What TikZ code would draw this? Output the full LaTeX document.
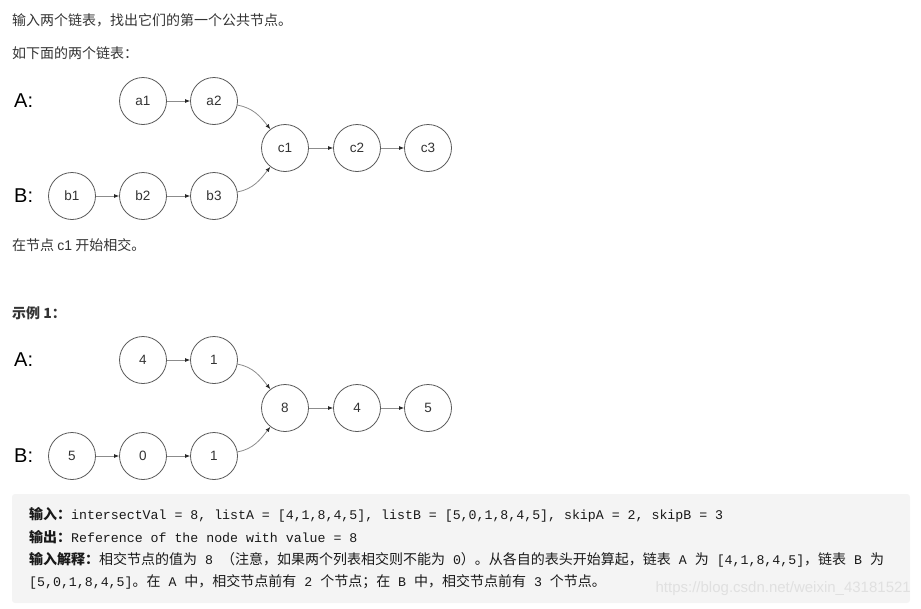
\documentclass[tikz,border=0pt]{standalone}
\usepackage{fontspec}
\setmainfont{Liberation Sans}
\setmonofont{Liberation Mono}
\newfontfamily\cjk{Noto Sans CJK SC}
\usetikzlibrary{arrows.meta}

\definecolor{codebg}{HTML}{F4F4F4}
\definecolor{ink}{HTML}{333333}
\tikzset{
  elem/.style={circle, draw=black!65, line width=0.8pt, minimum size=47pt, inner sep=0pt,
    text=ink, font=\fontsize{13.5}{16}\selectfont},
  link/.style={draw=black!45, line width=0.8pt, -{Latex[length=5pt,width=4pt,color=black!85]}},
  para/.style={anchor=west, inner sep=0pt, text=ink, font=\cjk\fontsize{14}{17}\selectfont},
  codeline/.style={anchor=west, inner sep=0pt, text=black!90, font=\fontsize{13.25}{17}\selectfont},
  listname/.style={anchor=west, inner sep=0pt, text=black, font=\fontsize{20}{24}\selectfont}
}

\begin{document}
\begin{tikzpicture}[x=1pt,y=-1pt]
\useasboundingbox (0,0) rectangle (921,608);

% texts above the lists
\node[para] (t1) at (12,20) {输入两个链表，找出它们的第一个公共节点。};
\node[para] (t2) at (12,53) {如下面的两个链表：};

% first pair of lists
\node[listname] (la) at (14,101) {A:}; \node[listname] (lb) at (14,196) {B:};
\node[elem] (a1) at (143,101) {a1}; \node[elem] (a2) at (214,101) {a2};
\node[elem] (b1) at (72,196) {b1}; \node[elem] (b2) at (143,196) {b2}; \node[elem] (b3) at (214,196) {b3};
\node[elem] (c1) at (285,148) {c1}; \node[elem] (c2) at (357,148) {c2}; \node[elem] (c3) at (428,148) {c3};
\draw[link] (a1)--(a2); \draw[link] (b1)--(b2); \draw[link] (b2)--(b3);
\draw[link] (c1)--(c2); \draw[link] (c2)--(c3);
\draw[link] (a2) to[out=-10,in=128] (c1);
\draw[link] (b3) to[out=10,in=-128] (c1);

\node[para] (t3) at (12,245) {在节点 {\fontspec{Liberation Sans}c1} 开始相交。};
\node[para] (t4) at (12,313) {\bfseries 示例 1：};

% second pair of lists
\node[listname] (ea) at (14,360) {A:}; \node[listname] (eb) at (14,456) {B:};
\node[elem] (ea1) at (143,360) {4}; \node[elem] (ea2) at (214,360) {1};
\node[elem] (eb1) at (72,456) {5}; \node[elem] (eb2) at (143,456) {0}; \node[elem] (eb3) at (214,456) {1};
\node[elem] (ec1) at (285,408) {8}; \node[elem] (ec2) at (357,408) {4}; \node[elem] (ec3) at (428,408) {5};
\draw[link] (ea1)--(ea2); \draw[link] (eb1)--(eb2); \draw[link] (eb2)--(eb3);
\draw[link] (ec1)--(ec2); \draw[link] (ec2)--(ec3);
\draw[link] (ea2) to[out=-10,in=128] (ec1);
\draw[link] (eb3) to[out=10,in=-128] (ec1);

% code block
\fill[codebg, rounded corners=3pt] (12,494) rectangle (910,603);
\node[anchor=east, inner sep=0pt, text=black!12, font=\fontsize{15}{18}\selectfont] (wm) at (911,589)
  {https://blog.csdn.net/weixin\_43181521};
\node[codeline] (l1) at (29,515) {{\cjk\bfseries\fontsize{14}{17}\selectfont 输入：}\texttt{intersectVal = 8, listA = [4,1,8,4,5], listB = [5,0,1,8,4,5], skipA = 2, skipB = 3}};
\node[codeline] (l2) at (29,537) {{\cjk\bfseries\fontsize{14}{17}\selectfont 输出：}\texttt{Reference of the node with value = 8}};
\node[codeline] (l3) at (29,560) {{\cjk\bfseries\fontsize{14}{17}\selectfont 输入解释：}{\cjk\fontsize{14}{17}\selectfont 相交节点的值为}\texttt{ 8 }{\cjk\fontsize{14}{17}\selectfont （注意，如果两个列表相交则不能为}\texttt{ 0}{\cjk\fontsize{14}{17}\selectfont ）。从各自的表头开始算起，链表}\texttt{ A }{\cjk\fontsize{14}{17}\selectfont 为}\texttt{ [4,1,8,4,5]}{\cjk\fontsize{14}{17}\selectfont ，链表}\texttt{ B }{\cjk\fontsize{14}{17}\selectfont 为}};
\node[codeline] (l4) at (29,582) {\texttt{[5,0,1,8,4,5]}{\cjk\fontsize{14}{17}\selectfont 。在}\texttt{ A }{\cjk\fontsize{14}{17}\selectfont 中，相交节点前有}\texttt{ 2 }{\cjk\fontsize{14}{17}\selectfont 个节点；在}\texttt{ B }{\cjk\fontsize{14}{17}\selectfont 中，相交节点前有}\texttt{ 3 }{\cjk\fontsize{14}{17}\selectfont 个节点。}};
\end{tikzpicture}
\end{document}
